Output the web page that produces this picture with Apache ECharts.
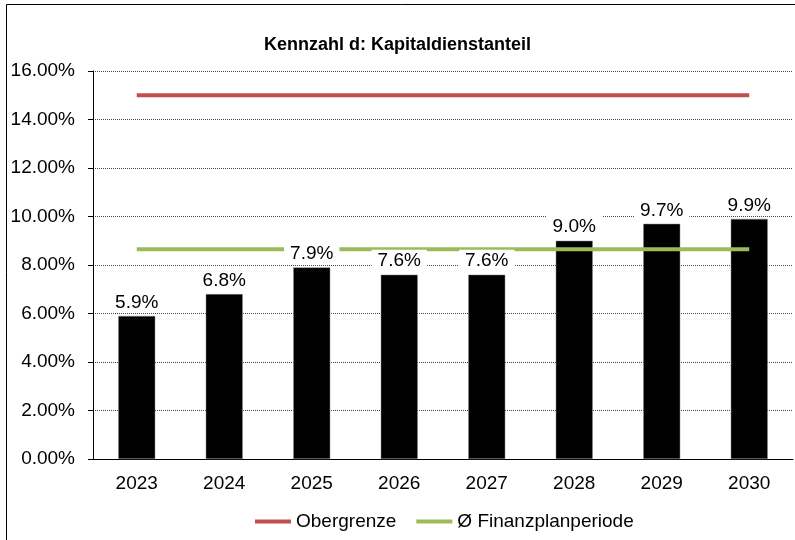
<!DOCTYPE html>
<html>
<head>
<meta charset="utf-8">
<script src="https://cdn.jsdelivr.net/npm/echarts@6/dist/echarts.min.js"></script>
<style>
  html, body { margin: 0; padding: 0; background: #fff; }
  #chart { width: 795px; height: 540px; }
</style>
</head>
<body>
<div id="chart"></div>
<script>
// Kapitaldienstanteil je Jahr (in %)
const years = ['2023', '2024', '2025', '2026', '2027', '2028', '2029', '2030']
const kapitaldienst = [5.9, 6.8, 7.9, 7.6, 7.6, 9.0, 9.7, 9.9]
const obergrenze = [15, 15, 15, 15, 15, 15, 15, 15]
const finanzplan = [8.65, 8.65, 8.65, 8.65, 8.65, 8.65, 8.65, 8.65]
const yTicks = { min: 0, max: 16, interval: 2 }

const font = '"Liberation Sans", Arial, sans-serif'
const chart = echarts.init(document.getElementById('chart'))

chart.setOption({
  animation: false,
  textStyle: { fontFamily: font },
  graphic: [{
    type: 'rect',
    shape: { x: 6.5, y: 4.5, width: 820, height: 600 },
    style: { fill: 'none', stroke: '#000', lineWidth: 1 },
    z: -1,
    silent: true
  }],
  title: {
    text: 'Kennzahl d: Kapitaldienstanteil',
    left: 'center',
    top: 31,
    textStyle: { fontFamily: font, fontSize: 18, fontWeight: 'bold', color: '#000' }
  },
  legend: {
    left: 250,
    top: 507,
    itemWidth: 36,
    itemHeight: 4,
    itemGap: 20,
    icon: 'rect',
    textStyle: { fontFamily: font, fontSize: 19, color: '#000' },
    data: ['Obergrenze', 'Ø Finanzplanperiode']
  },
  grid: { left: 93, right: 2, top: 71, bottom: 81 },
  xAxis: {
    type: 'category',
    data: years,
    axisLine: { lineStyle: { color: '#000', width: 1 } },
    axisTick: { show: false },
    axisLabel: { fontFamily: font, fontSize: 19, color: '#000', margin: 15 }
  },
  yAxis: {
    type: 'value',
    min: yTicks.min,
    max: yTicks.max,
    interval: yTicks.interval,
    axisLine: { show: true, lineStyle: { color: '#000', width: 1 } },
    axisTick: { show: true, length: 5, lineStyle: { color: '#000' } },
    axisLabel: {
      fontFamily: font, fontSize: 19, color: '#000', margin: 18,
      formatter: v => v.toFixed(2) + '%'
    },
    splitLine: { lineStyle: { type: 'dotted', color: '#444', width: 1 } }
  },
  series: [
    {
      name: 'Kapitaldienstanteil',
      type: 'bar',
      data: kapitaldienst,
      barWidth: 37,
      itemStyle: { color: '#000', borderColor: '#888', borderWidth: 0.5 },
      z: 1
    },
    {
      name: 'Obergrenze',
      type: 'line',
      data: obergrenze,
      symbol: 'none',
      lineStyle: { color: '#c0504d', width: 4 },
      itemStyle: { color: '#c0504d' },
      z: 2
    },
    {
      name: 'Ø Finanzplanperiode',
      type: 'line',
      data: finanzplan,
      symbol: 'none',
      lineStyle: { color: '#9bbb59', width: 4 },
      itemStyle: { color: '#9bbb59' },
      z: 2
    },
    {
      // nur Beschriftung, liegt über den Linien
      name: 'Beschriftung',
      type: 'bar',
      data: kapitaldienst,
      barWidth: 37,
      barGap: '-100%',
      itemStyle: { color: 'rgba(0,0,0,0)' },
      label: {
        show: true,
        position: 'top',
        distance: 3,
        fontFamily: font,
        fontSize: 19,
        color: '#000',
        backgroundColor: '#fff',
        padding: [2, 6, 1, 6],
        formatter: p => p.value.toFixed(1) + '%'
      },
      z: 3
    }
  ]
})
</script>
</body>
</html>
